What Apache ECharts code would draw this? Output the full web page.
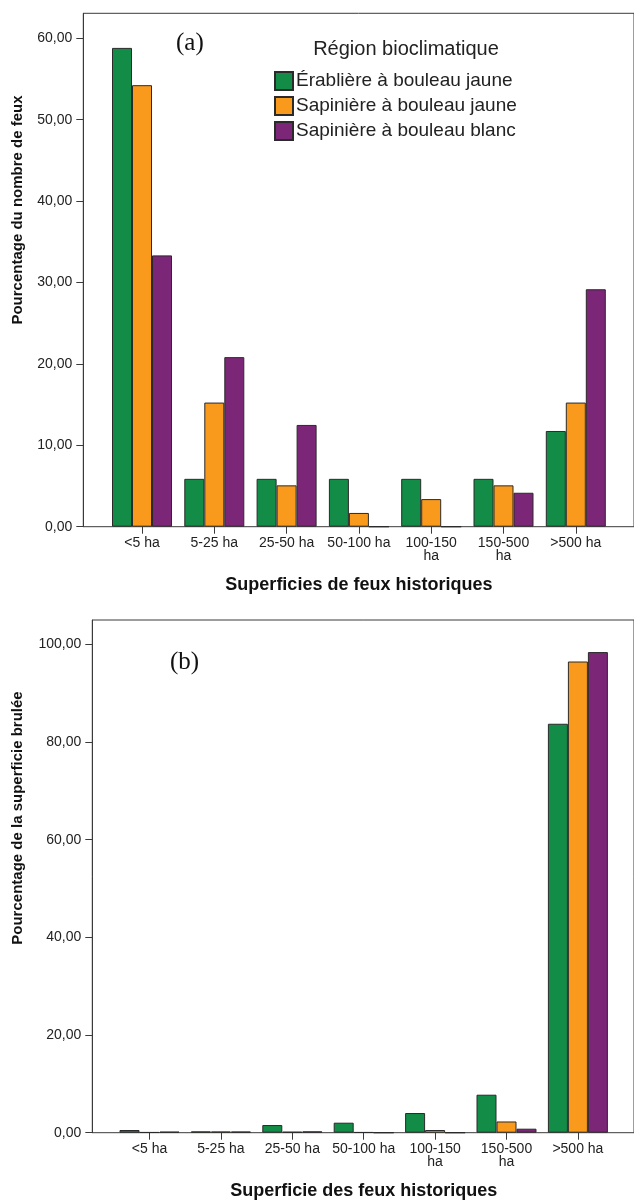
<!DOCTYPE html>
<html>
<head>
<meta charset="utf-8">
<script src="https://cdn.jsdelivr.net/npm/echarts@6/dist/echarts.min.js"></script>
<style>
html,body{margin:0;padding:0;background:#fff;}
#chart{width:634px;height:1201px;}
</style>
</head>
<body>
<div id="chart"></div>
<script>
// ---- data ----
const categories = ['<5 ha', '5-25 ha', '25-50 ha', '50-100 ha', '100-150 ha', '150-500 ha', '>500 ha'];
const seriesNames = ['Érablière à bouleau jaune', 'Sapinière à bouleau jaune', 'Sapinière à bouleau blanc'];
// (a) Pourcentage du nombre de feux
const fireCountErable   = [58.82, 5.88, 5.88, 5.88, 5.88, 5.88, 11.76];
const fireCountSapJaune = [54.24, 15.25, 5.08, 1.69, 3.39, 5.08, 15.25];
const fireCountSapBlanc = [33.33, 20.83, 12.50, 0, 0, 4.17, 29.17];
// (b) Pourcentage de la superficie brulée
const areaErable   = [0.55, 0.27, 1.57, 2.05, 4.03, 7.78, 83.75];
const areaSapJaune = [0.10, 0.25, 0.20, 0.10, 0.55, 2.30, 96.50];
const areaSapBlanc = [0.22, 0.25, 0.28, 0, 0, 0.82, 98.43];
// tick labels
const ticksA = [0, 10, 20, 30, 40, 50, 60];
const ticksB = [0, 20, 40, 60, 80, 100];
const yMaxA = 63.07;
const yMaxB = 105;

const colors = ['#128c46', '#f99a1c', '#7c2677'];
const frameColor = '#3a3a3a';
const fontFam = 'Liberation Sans, Arial, sans-serif';

const chart = echarts.init(document.getElementById('chart'), null, {renderer: 'canvas'});

const fmt = v => Number(v).toFixed(2).replace('.', ',');
const catFmt = v => (v.length > 9 ? v.replace(' ', '\n') : v);

function frameY(max, ticks, gi) {
  return {
    gridIndex: gi, type: 'value', min: 0, max: max,
    axisLine: {show: true, lineStyle: {color: frameColor, width: 1}},
    axisTick: {show: true, length: 7, customValues: ticks, lineStyle: {color: frameColor}},
    axisLabel: {customValues: ticks, formatter: fmt, margin: 11, fontSize: 14, color: '#222', fontFamily: fontFam},
    splitLine: {show: false}
  };
}
function hiddenY(max, gi) {
  return {gridIndex: gi, type: 'value', min: 0, max: max, show: false, splitLine: {show: false}};
}
function barX(gi, name) {
  return {
    gridIndex: gi, type: 'category', data: categories,
    axisLine: {show: false},
    axisTick: {show: true, alignWithLabel: true, length: 7, lineStyle: {color: frameColor}},
    axisLabel: {formatter: catFmt, margin: 10, fontSize: 14, lineHeight: 13, color: '#222', fontFamily: fontFam, interval: 0},
    name: name, nameLocation: 'middle', nameGap: 49,
    nameTextStyle: {fontSize: 18, fontWeight: 'bold', color: '#111', fontFamily: fontFam}
  };
}
function frameX(gi) {
  return {gridIndex: gi, type: 'category', data: categories, show: false};
}
function bars(name, data, ci, xi) {
  return {
    type: 'bar', name: name, data: data, xAxisIndex: xi, yAxisIndex: xi,
    barWidth: 20, barGap: '0%',
    itemStyle: {color: colors[ci], borderColor: '#2a2a2a', borderWidth: 1},
    emphasis: {disabled: true}
  };
}

const option = {
  animation: false,
  backgroundColor: '#fff',
  grid: [
    {left: 83.3, top: 13.3, width: 560, height: 513.4, show: true, borderColor: frameColor, borderWidth: 1, backgroundColor: 'transparent'},
    {left: 105.85, top: 13.3, width: 506.1, height: 513.4},
    {left: 92.3, top: 620, width: 560, height: 512.7, show: true, borderColor: frameColor, borderWidth: 1, backgroundColor: 'transparent'},
    {left: 113.8, top: 620, width: 499.8, height: 512.7}
  ],
  xAxis: [
    frameX(0),
    barX(1, 'Superficies de feux historiques'),
    frameX(2),
    barX(3, 'Superficie des feux historiques')
  ],
  yAxis: [
    frameY(yMaxA, ticksA, 0),
    hiddenY(yMaxA, 1),
    frameY(yMaxB, ticksB, 2),
    hiddenY(yMaxB, 3)
  ],
  legend: {
    data: seriesNames, orient: 'vertical', left: 269, top: 66,
    icon: 'rect', itemWidth: 18, itemHeight: 18, itemGap: 5,
    selectedMode: false,
    textStyle: {fontSize: 19, color: '#222', fontFamily: fontFam, padding: [0, 0, 0, -2]}
  },
  series: [
    bars(seriesNames[0], fireCountErable, 0, 1),
    bars(seriesNames[1], fireCountSapJaune, 1, 1),
    bars(seriesNames[2], fireCountSapBlanc, 2, 1),
    bars(seriesNames[0], areaErable, 0, 3),
    bars(seriesNames[1], areaSapJaune, 1, 3),
    bars(seriesNames[2], areaSapBlanc, 2, 3)
  ],
  graphic: [
    {type: 'text', x: 176, y: 43, style: {text: '(a)', font: '25px "Liberation Serif", "Times New Roman", serif', fill: '#111', align: 'left', verticalAlign: 'middle'}},
    {type: 'text', x: 170, y: 662, style: {text: '(b)', font: '25px "Liberation Serif", "Times New Roman", serif', fill: '#111', align: 'left', verticalAlign: 'middle'}},
    {type: 'text', x: 406, y: 49, style: {text: 'Région bioclimatique', font: '20px "Liberation Sans", Arial, sans-serif', fill: '#222', align: 'center', verticalAlign: 'middle'}},
    {type: 'text', x: 18, y: 210, rotation: Math.PI / 2, style: {text: 'Pourcentage du nombre de feux', font: 'bold 15px "Liberation Sans", Arial, sans-serif', fill: '#111', align: 'center', verticalAlign: 'middle'}},
    {type: 'text', x: 18, y: 818, rotation: Math.PI / 2, style: {text: 'Pourcentage de la superficie brulée', font: 'bold 15px "Liberation Sans", Arial, sans-serif', fill: '#111', align: 'center', verticalAlign: 'middle'}}
  ]
};
chart.setOption(option);
</script>
</body>
</html>
